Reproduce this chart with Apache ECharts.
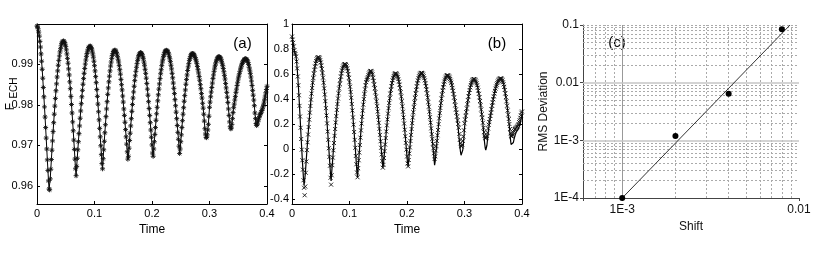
<!DOCTYPE html>
<html><head><meta charset="utf-8">
<script src="https://cdn.jsdelivr.net/npm/echarts@6/dist/echarts.min.js"></script>
<style>html,body{margin:0;padding:0;background:#fff}#c{width:830px;height:256px}</style>
</head><body><div id="c"></div>
<script>
// ---- sample times (shared by panels a and b)
const time = [
0,0.001,0.002,0.003,0.004,0.005,0.006,0.007,0.008,0.009,
0.010,0.011,0.012,0.013,0.014,0.015,0.016,0.017,0.018,0.019,
0.020,0.021,0.022,0.023,0.024,0.025,0.026,0.027,0.028,0.029,
0.030,0.031,0.032,0.033,0.034,0.035,0.036,0.037,0.038,0.039,
0.040,0.041,0.042,0.043,0.044,0.045,0.046,0.047,0.048,0.049,
0.050,0.051,0.052,0.053,0.054,0.055,0.056,0.057,0.058,0.059,
0.060,0.061,0.062,0.063,0.064,0.065,0.066,0.067,0.068,0.069,
0.070,0.071,0.072,0.073,0.074,0.075,0.076,0.077,0.078,0.079,
0.080,0.081,0.082,0.083,0.084,0.085,0.086,0.087,0.088,0.089,
0.090,0.091,0.092,0.093,0.094,0.095,0.096,0.097,0.098,0.099,
0.100,0.101,0.102,0.103,0.104,0.105,0.106,0.107,0.108,0.109,
0.110,0.111,0.112,0.113,0.114,0.115,0.116,0.117,0.118,0.119,
0.120,0.121,0.122,0.123,0.124,0.125,0.126,0.127,0.128,0.129,
0.130,0.131,0.132,0.133,0.134,0.135,0.136,0.137,0.138,0.139,
0.140,0.141,0.142,0.143,0.144,0.145,0.146,0.147,0.148,0.149,
0.150,0.151,0.152,0.153,0.154,0.155,0.156,0.157,0.158,0.159,
0.160,0.161,0.162,0.163,0.164,0.165,0.166,0.167,0.168,0.169,
0.170,0.171,0.172,0.173,0.174,0.175,0.176,0.177,0.178,0.179,
0.180,0.181,0.182,0.183,0.184,0.185,0.186,0.187,0.188,0.189,
0.190,0.191,0.192,0.193,0.194,0.195,0.196,0.197,0.198,0.199,
0.200,0.201,0.202,0.203,0.204,0.205,0.206,0.207,0.208,0.209,
0.210,0.211,0.212,0.213,0.214,0.215,0.216,0.217,0.218,0.219,
0.220,0.221,0.222,0.223,0.224,0.225,0.226,0.227,0.228,0.229,
0.230,0.231,0.232,0.233,0.234,0.235,0.236,0.237,0.238,0.239,
0.240,0.241,0.242,0.243,0.244,0.245,0.246,0.247,0.248,0.249,
0.250,0.251,0.252,0.253,0.254,0.255,0.256,0.257,0.258,0.259,
0.260,0.261,0.262,0.263,0.264,0.265,0.266,0.267,0.268,0.269,
0.270,0.271,0.272,0.273,0.274,0.275,0.276,0.277,0.278,0.279,
0.280,0.281,0.282,0.283,0.284,0.285,0.286,0.287,0.288,0.289,
0.290,0.291,0.292,0.293,0.294,0.295,0.296,0.297,0.298,0.299,
0.300,0.301,0.302,0.303,0.304,0.305,0.306,0.307,0.308,0.309,
0.310,0.311,0.312,0.313,0.314,0.315,0.316,0.317,0.318,0.319,
0.320,0.321,0.322,0.323,0.324,0.325,0.326,0.327,0.328,0.329,
0.330,0.331,0.332,0.333,0.334,0.335,0.336,0.337,0.338,0.339,
0.340,0.341,0.342,0.343,0.344,0.345,0.346,0.347,0.348,0.349,
0.350,0.351,0.352,0.353,0.354,0.355,0.356,0.357,0.358,0.359,
0.360,0.361,0.362,0.363,0.364,0.365,0.366,0.367,0.368,0.369,
0.370,0.371,0.372,0.373,0.374,0.375,0.376,0.377,0.378,0.379,
0.380,0.381,0.382,0.383,0.384,0.385,0.386,0.387,0.388,0.389,
0.390,0.391,0.392,0.393,0.394,0.395,0.396,0.397,0.398,0.399,
0.400];

// ---- panel (a): F_ECH
const fechA = [
0.9995,0.9993,0.9988,0.9980,0.9970,0.9957,0.9943,0.9926,0.9908,0.9888,
0.9866,0.9843,0.9820,0.9795,0.9770,0.9744,0.9718,0.9691,0.9664,0.9638,
0.9612,0.9592,0.9590,0.9617,0.9641,0.9665,0.9688,0.9711,0.9734,0.9756,
0.9777,0.9797,0.9816,0.9835,0.9852,0.9869,0.9884,0.9898,0.9910,0.9921,
0.9931,0.9939,0.9946,0.9952,0.9955,0.9957,0.9958,0.9957,0.9954,0.9950,
0.9944,0.9936,0.9926,0.9915,0.9903,0.9889,0.9874,0.9857,0.9840,0.9821,
0.9801,0.9780,0.9758,0.9736,0.9713,0.9690,0.9666,0.9642,0.9625,0.9648,
0.9668,0.9689,0.9709,0.9729,0.9748,0.9767,0.9785,0.9803,0.9820,0.9836,
0.9851,0.9865,0.9878,0.9890,0.9901,0.9911,0.9920,0.9927,0.9933,0.9938,
0.9942,0.9944,0.9945,0.9945,0.9942,0.9939,0.9933,0.9926,0.9918,0.9908,
0.9897,0.9884,0.9870,0.9855,0.9838,0.9821,0.9802,0.9783,0.9763,0.9742,
0.9721,0.9699,0.9677,0.9655,0.9642,0.9667,0.9689,0.9710,0.9731,0.9751,
0.9771,0.9790,0.9808,0.9826,0.9842,0.9857,0.9871,0.9884,0.9896,0.9906,
0.9915,0.9922,0.9927,0.9932,0.9934,0.9935,0.9935,0.9933,0.9930,0.9926,
0.9920,0.9913,0.9906,0.9897,0.9887,0.9876,0.9863,0.9850,0.9837,0.9822,
0.9807,0.9790,0.9774,0.9757,0.9739,0.9721,0.9703,0.9684,0.9666,0.9673,
0.9693,0.9712,0.9730,0.9748,0.9766,0.9784,0.9801,0.9817,0.9832,0.9846,
0.9860,0.9872,0.9883,0.9893,0.9902,0.9910,0.9916,0.9922,0.9925,0.9928,
0.9929,0.9929,0.9927,0.9924,0.9919,0.9914,0.9906,0.9898,0.9888,0.9878,
0.9866,0.9853,0.9839,0.9824,0.9808,0.9791,0.9774,0.9756,0.9738,0.9720,
0.9701,0.9681,0.9673,0.9691,0.9709,0.9727,0.9744,0.9762,0.9778,0.9794,
0.9810,0.9825,0.9839,0.9852,0.9865,0.9877,0.9887,0.9897,0.9906,0.9913,
0.9920,0.9925,0.9930,0.9933,0.9934,0.9935,0.9934,0.9933,0.9930,0.9926,
0.9920,0.9914,0.9907,0.9898,0.9889,0.9878,0.9867,0.9854,0.9841,0.9828,
0.9813,0.9798,0.9782,0.9766,0.9749,0.9732,0.9715,0.9698,0.9680,0.9691,
0.9709,0.9726,0.9744,0.9761,0.9777,0.9793,0.9809,0.9823,0.9837,0.9851,
0.9863,0.9874,0.9885,0.9894,0.9902,0.9910,0.9915,0.9920,0.9924,0.9926,
0.9927,0.9927,0.9926,0.9924,0.9921,0.9917,0.9913,0.9908,0.9902,0.9895,
0.9887,0.9879,0.9870,0.9861,0.9850,0.9840,0.9828,0.9817,0.9804,0.9792,
0.9777,0.9760,0.9741,0.9728,0.9720,0.9719,0.9726,0.9738,0.9752,0.9772,
0.9794,0.9807,0.9820,0.9832,0.9843,0.9854,0.9865,0.9874,0.9883,0.9891,
0.9898,0.9904,0.9909,0.9913,0.9916,0.9918,0.9919,0.9919,0.9918,0.9916,
0.9913,0.9908,0.9903,0.9897,0.9890,0.9882,0.9873,0.9864,0.9853,0.9842,
0.9831,0.9819,0.9806,0.9790,0.9774,0.9758,0.9746,0.9741,0.9743,0.9752,
0.9766,0.9781,0.9793,0.9802,0.9812,0.9821,0.9831,0.9839,0.9848,0.9856,
0.9864,0.9871,0.9877,0.9883,0.9889,0.9894,0.9899,0.9903,0.9906,0.9909,
0.9911,0.9913,0.9914,0.9914,0.9913,0.9912,0.9909,0.9905,0.9900,0.9893,
0.9886,0.9878,0.9869,0.9859,0.9848,0.9836,0.9824,0.9812,0.9798,0.9780,
0.9766,0.9754,0.9749,0.9752,0.9758,0.9763,0.9768,0.9772,0.9776,0.9779,
0.9782,0.9786,0.9790,0.9795,0.9800,0.9807,0.9814,0.9822,0.9830,0.9838,
0.9846];

// ---- panel (b): solid curve
const curveB = [
0.900,0.875,0.850,0.820,0.790,0.770,0.760,0.740,0.700,0.645,
0.580,0.510,0.430,0.345,0.260,0.170,0.080,-0.005,-0.090,-0.165,
-0.240,-0.290,-0.280,-0.206,-0.140,-0.074,-0.009,0.054,0.116,0.176,
0.235,0.291,0.344,0.395,0.443,0.488,0.530,0.568,0.603,0.633,
0.660,0.684,0.703,0.717,0.727,0.733,0.735,0.732,0.724,0.711,
0.692,0.669,0.641,0.608,0.571,0.530,0.485,0.436,0.383,0.327,
0.268,0.205,0.140,0.074,0.006,-0.063,-0.134,-0.205,-0.255,-0.189,
-0.129,-0.069,-0.010,0.048,0.105,0.160,0.212,0.263,0.313,0.360,
0.404,0.446,0.484,0.520,0.552,0.580,0.606,0.628,0.646,0.660,
0.671,0.677,0.680,0.678,0.672,0.661,0.645,0.624,0.599,0.569,
0.535,0.498,0.456,0.410,0.360,0.308,0.253,0.195,0.136,0.073,
0.010,-0.056,-0.122,-0.188,-0.226,-0.153,-0.090,-0.028,0.032,0.091,
0.149,0.204,0.257,0.307,0.355,0.399,0.440,0.477,0.510,0.535,
0.552,0.563,0.575,0.590,0.604,0.615,0.622,0.625,0.622,0.612,
0.598,0.570,0.545,0.515,0.486,0.454,0.419,0.382,0.343,0.300,
0.256,0.210,0.161,0.113,0.062,0.010,-0.043,-0.096,-0.149,-0.127,
-0.072,-0.017,0.036,0.088,0.140,0.189,0.237,0.283,0.327,0.368,
0.406,0.442,0.473,0.503,0.528,0.550,0.569,0.584,0.595,0.602,
0.605,0.604,0.599,0.590,0.577,0.560,0.539,0.515,0.487,0.455,
0.420,0.382,0.342,0.298,0.252,0.204,0.154,0.102,0.049,-0.005,
-0.060,-0.116,-0.139,-0.088,-0.037,0.013,0.064,0.113,0.160,0.207,
0.252,0.294,0.335,0.373,0.409,0.443,0.473,0.501,0.527,0.548,
0.567,0.582,0.594,0.603,0.608,0.610,0.608,0.603,0.595,0.583,
0.567,0.549,0.527,0.503,0.475,0.445,0.411,0.375,0.338,0.298,
0.255,0.211,0.165,0.119,0.071,0.021,-0.029,-0.079,-0.130,-0.099,
-0.047,0.004,0.055,0.104,0.152,0.199,0.245,0.287,0.328,0.367,
0.403,0.436,0.467,0.494,0.518,0.539,0.556,0.570,0.580,0.587,
0.590,0.589,0.586,0.580,0.571,0.560,0.546,0.530,0.511,0.489,
0.466,0.440,0.412,0.382,0.350,0.316,0.281,0.245,0.206,0.167,
0.120,0.070,0.020,-0.022,-0.050,-0.060,-0.045,-0.008,0.038,0.095,
0.165,0.212,0.251,0.289,0.325,0.359,0.391,0.421,0.448,0.472,
0.493,0.512,0.528,0.540,0.550,0.556,0.560,0.560,0.556,0.550,
0.540,0.526,0.510,0.490,0.467,0.442,0.414,0.384,0.351,0.316,
0.278,0.240,0.200,0.150,0.098,0.047,0.010,-0.008,0.002,0.030,
0.076,0.125,0.164,0.196,0.228,0.259,0.290,0.318,0.346,0.373,
0.398,0.421,0.444,0.464,0.483,0.500,0.515,0.528,0.539,0.548,
0.556,0.561,0.564,0.565,0.563,0.557,0.548,0.534,0.517,0.497,
0.472,0.445,0.415,0.382,0.346,0.308,0.268,0.227,0.183,0.124,
0.075,0.036,0.020,0.025,0.035,0.052,0.075,0.093,0.110,0.123,
0.135,0.143,0.150,0.157,0.165,0.176,0.190,0.208,0.230,0.255,
0.280];

// ---- panel (b): x markers
const marksB = [
0.900,0.875,0.850,0.820,0.790,0.770,0.760,0.740,0.700,0.645,
0.580,0.510,0.430,0.345,0.260,0.170,0.080,-0.005,-0.090,-0.165,
-0.250,-0.310,-0.370,-0.300,-0.190,-0.100,-0.009,0.054,0.116,0.176,
0.235,0.291,0.344,0.395,0.443,0.488,0.530,0.568,0.603,0.633,
0.660,0.684,0.703,0.717,0.727,0.733,0.735,0.732,0.724,0.711,
0.692,0.669,0.641,0.608,0.571,0.530,0.485,0.436,0.383,0.327,
0.268,0.205,0.140,0.074,0.006,-0.063,-0.134,-0.230,-0.285,-0.210,
-0.129,-0.069,-0.010,0.048,0.105,0.160,0.212,0.263,0.313,0.360,
0.404,0.446,0.484,0.520,0.552,0.580,0.606,0.628,0.646,0.660,
0.671,0.677,0.680,0.678,0.672,0.661,0.645,0.624,0.599,0.569,
0.535,0.498,0.456,0.410,0.360,0.308,0.253,0.195,0.136,0.073,
0.010,-0.056,-0.122,-0.188,-0.226,-0.153,-0.090,-0.028,0.032,0.091,
0.149,0.204,0.257,0.307,0.355,0.399,0.440,0.477,0.510,0.535,
0.552,0.563,0.575,0.590,0.604,0.615,0.622,0.625,0.622,0.612,
0.598,0.570,0.545,0.515,0.486,0.454,0.419,0.382,0.343,0.300,
0.256,0.210,0.161,0.113,0.062,0.010,-0.043,-0.096,-0.149,-0.127,
-0.072,-0.017,0.036,0.088,0.140,0.189,0.237,0.283,0.327,0.368,
0.406,0.442,0.473,0.503,0.528,0.550,0.569,0.584,0.595,0.602,
0.605,0.604,0.599,0.590,0.577,0.560,0.539,0.515,0.487,0.455,
0.420,0.382,0.342,0.298,0.252,0.204,0.154,0.102,0.049,-0.005,
-0.060,-0.116,-0.139,-0.088,-0.037,0.013,0.064,0.113,0.160,0.207,
0.252,0.294,0.335,0.373,0.409,0.443,0.473,0.501,0.527,0.548,
0.567,0.582,0.594,0.603,0.608,0.610,0.608,0.603,0.595,0.583,
0.567,0.549,0.527,0.503,0.475,0.445,0.411,0.375,0.338,0.298,
0.255,0.211,0.165,0.119,0.081,0.041,0.006,-0.034,-0.080,-0.059,
-0.012,0.024,0.065,0.110,0.152,0.199,0.245,0.287,0.328,0.367,
0.403,0.436,0.467,0.494,0.518,0.539,0.556,0.570,0.580,0.587,
0.590,0.589,0.586,0.580,0.571,0.560,0.546,0.530,0.511,0.489,
0.466,0.440,0.412,0.382,0.350,0.316,0.291,0.260,0.231,0.200,
0.170,0.120,0.075,0.045,0.025,0.020,0.035,0.065,0.100,0.150,
0.205,0.235,0.265,0.295,0.325,0.359,0.391,0.421,0.448,0.472,
0.493,0.512,0.528,0.540,0.550,0.556,0.560,0.560,0.556,0.550,
0.540,0.526,0.510,0.490,0.467,0.442,0.414,0.384,0.351,0.316,
0.278,0.250,0.210,0.170,0.135,0.105,0.090,0.086,0.090,0.105,
0.130,0.165,0.195,0.215,0.240,0.265,0.290,0.318,0.346,0.373,
0.398,0.421,0.444,0.464,0.483,0.500,0.515,0.528,0.539,0.548,
0.556,0.561,0.564,0.565,0.563,0.557,0.548,0.534,0.517,0.497,
0.472,0.445,0.415,0.382,0.346,0.308,0.275,0.240,0.200,0.160,
0.125,0.105,0.100,0.105,0.115,0.130,0.145,0.155,0.160,0.165,
0.170,0.175,0.180,0.190,0.200,0.215,0.230,0.250,0.270,0.290,
0.300];

// ---- tick labels (a), (b)
const xTicksAB = [0, 0.1, 0.2, 0.3, 0.4];
const xTickLabelsAB = ['0', '0.1', '0.2', '0.3', '0.4'];
const yTicksA = [0.96, 0.97, 0.98, 0.99];
const yTickLabelsA = ['0.96', '0.97', '0.98', '0.99'];
const yTicksB = [-0.4, -0.2, 0, 0.2, 0.4, 0.6, 0.8, 1];
const yTickLabelsB = ['-0.4', '-0.2', '0', '0.2', '0.4', '0.6', '0.8', '1'];

// ---- panel (c)
const shiftC = [0.001, 0.002, 0.004, 0.008];
const rmsC = [0.0001, 0.00119, 0.00645, 0.0843];
const fitShift = [0.001, 0.0089];
const fitRms = [0.0001, 0.1];
const cXTicks = [0.001, 0.01];
const cXTickLabels = ['1E-3', '0.01'];
const cYTicks = [0.0001, 0.001, 0.01, 0.1];
const cYTickLabels = ['1E-4', '1E-3', '0.01', '0.1'];
const cXMinor = [0.0007, 0.0008, 0.0009, 0.002, 0.003, 0.004, 0.005, 0.006, 0.007, 0.008, 0.009];
const cYMinor = [0.0002, 0.0003, 0.0004, 0.0005, 0.0006, 0.0007, 0.0008, 0.0009,
                 0.002, 0.003, 0.004, 0.005, 0.006, 0.007, 0.008, 0.009,
                 0.02, 0.03, 0.04, 0.05, 0.06, 0.07, 0.08, 0.09, 0.1];
const cXMajor = [0.001];
const cYMajor = [0.001, 0.01];

// ---------------------------------------------------------------
const FONT = '"Liberation Sans", Arial, Helvetica, sans-serif';
const pairs = (xs, ys) => xs.map((x, i) => [x, ys[i]]);
const ASTER = 'path://M5,0L5,10M0,5L10,5M1.6,1.6L8.4,8.4M8.4,1.6L1.6,8.4';
const CROSS = 'path://M0,0L10,10M10,0L0,10';

const pick = (ticks, labels) => (v) => {
  const i = ticks.findIndex(t => Math.abs(t - v) < 1e-7);
  return i >= 0 ? labels[i] : '';
};
const pickLog = (ticks, labels) => (v) => {
  const l = v > 0 ? Math.log10(v) : v;
  const i = ticks.findIndex(t => Math.abs(Math.log10(t) - l) < 0.01);
  return i >= 0 ? labels[i] : '';
};

const lineAxis = { show: true, onZero: false, lineStyle: { color: '#000', width: 1 } };
const inTick = { show: true, inside: true, length: 3, lineStyle: { color: '#000', width: 1 } };
const lab = (extra) => Object.assign({ color: '#000', fontSize: 11, fontFamily: FONT }, extra);

function xPair(g) {
  const base = { gridIndex: g, type: 'value', min: 0, max: 0.4, interval: 0.1,
    axisLine: lineAxis, axisTick: inTick, splitLine: { show: false } };
  return [
    Object.assign({}, base, { position: 'bottom',
      axisLabel: lab({ margin: 4, formatter: pick(xTicksAB, xTickLabelsAB) }),
      name: 'Time', nameLocation: 'middle', nameGap: 14,
      nameTextStyle: { color: '#000', fontSize: 12, fontFamily: FONT } }),
    Object.assign({}, base, { position: 'top', axisLabel: { show: false } })
  ];
}
function yPair(g, min, max, split, ticks, labels, margin) {
  const base = { gridIndex: g, type: 'value', min: min, max: max, splitNumber: split,
    axisLine: lineAxis, axisTick: inTick, splitLine: { show: false } };
  return [
    Object.assign({}, base, { position: 'left',
      axisLabel: lab({ margin: margin, formatter: pick(ticks, labels) }) }),
    Object.assign({}, base, { position: 'right', axisLabel: { show: false } })
  ];
}

const dotted = { color: '#aaa', type: [2, 2], width: 1 };
const gridLines = [].concat(
  cXMinor.map(v => ({ xAxis: v, lineStyle: dotted })),
  cYMinor.map(v => ({ yAxis: v, lineStyle: dotted })),
  cXMajor.map(v => ({ xAxis: v, lineStyle: { color: '#999', type: 'solid', width: 1 } })),
  cYMajor.map(v => ({ yAxis: v, lineStyle: { color: '#c6c6c6', type: 'solid', width: 1.5 } }))
);

const option = {
  animation: false,
  textStyle: { fontFamily: FONT },
  grid: [
    { left: 37, top: 24, width: 230, height: 180 },
    { left: 292, top: 24, width: 230, height: 180 },
    { left: 583, top: 25, width: 216, height: 173 }
  ],
  xAxis: [].concat(xPair(0), xPair(1), [{
    gridIndex: 2, type: 'log', logBase: 10, min: 0.0006, max: 0.01, position: 'bottom',
    axisLine: { show: true, onZero: false, lineStyle: { color: '#444', width: 1 } },
    axisTick: { show: true, inside: false, length: 3, lineStyle: { color: '#444' } },
    minorTick: { show: false }, splitLine: { show: false },
    axisLabel: { color: '#111', fontSize: 12, fontFamily: FONT, margin: 6,
      formatter: pickLog(cXTicks, cXTickLabels) },
    name: 'Shift', nameLocation: 'middle', nameGap: 14,
    nameTextStyle: { color: '#111', fontSize: 12, fontFamily: FONT }
  }]),
  yAxis: [].concat(
    yPair(0, 0.9555, 1.0, 5, yTicksA, yTickLabelsA, 4),
    yPair(1, -0.44, 1.0, 7, yTicksB, yTickLabelsB, 3),
    [{
      gridIndex: 2, type: 'log', logBase: 10, min: 0.0001, max: 0.1, position: 'left',
      axisLine: { show: true, onZero: false, lineStyle: { color: '#444', width: 1 } },
      axisTick: { show: true, inside: false, length: 3, lineStyle: { color: '#444' } },
      minorTick: { show: false }, splitLine: { show: false },
      axisLabel: { color: '#111', fontSize: 12, fontFamily: FONT, margin: 4,
        formatter: pickLog(cYTicks, cYTickLabels) },
      name: 'RMS Deviation', nameLocation: 'middle', nameGap: 30, nameRotate: 90,
      nameTextStyle: { color: '#111', fontSize: 12, fontFamily: FONT }
    }]),
  series: [
    { type: 'line', xAxisIndex: 0, yAxisIndex: 0, data: pairs(time, fechA),
      showSymbol: true, showAllSymbol: true, symbol: ASTER, symbolSize: 5,
      itemStyle: { color: '#111', borderColor: '#111', borderWidth: 0.9, opacity: 1 },
      lineStyle: { color: '#000', width: 1 }, silent: true, z: 3 },
    { type: 'line', xAxisIndex: 2, yAxisIndex: 2, data: pairs(time, curveB),
      showSymbol: false, lineStyle: { color: '#000', width: 1.2 }, silent: true, z: 2 },
    { type: 'scatter', xAxisIndex: 2, yAxisIndex: 2, data: pairs(time, marksB),
      symbol: CROSS, symbolSize: 4,
      itemStyle: { color: '#111', borderColor: '#111', borderWidth: 0.9, opacity: 1 },
      silent: true, z: 3 },
    { type: 'line', xAxisIndex: 4, yAxisIndex: 4, data: pairs(fitShift, fitRms),
      showSymbol: false, lineStyle: { color: '#333', width: 1 }, silent: true, z: 6,
      markLine: { silent: true, symbol: ['none', 'none'], label: { show: false },
        precision: 10, animation: false, data: gridLines } },
    { type: 'scatter', xAxisIndex: 4, yAxisIndex: 4, data: pairs(shiftC, rmsC),
      symbol: 'circle', symbolSize: 6, itemStyle: { color: '#000', opacity: 1 },
      silent: true, z: 10, clip: false }
  ],
  graphic: [
    { type: 'text', x: 242.5, y: 43.5, silent: true,
      style: { text: '(a)', fontSize: 15, fontFamily: FONT, fill: '#000',
        align: 'center', verticalAlign: 'middle', textAlign: 'center', textVerticalAlign: 'middle' } },
    { type: 'text', x: 497, y: 43.5, silent: true,
      style: { text: '(b)', fontSize: 15, fontFamily: FONT, fill: '#000',
        align: 'center', verticalAlign: 'middle', textAlign: 'center', textVerticalAlign: 'middle' } },
    { type: 'text', x: 617, y: 43, silent: true,
      style: { text: '(c)', fontSize: 15, fontFamily: FONT, fill: '#000',
        align: 'center', verticalAlign: 'middle', textAlign: 'center', textVerticalAlign: 'middle' } },
    { type: 'text', x: 11, y: 106.5, rotation: Math.PI / 2, silent: true,
      style: { text: 'F', fontSize: 12, fontFamily: FONT, fill: '#000',
        align: 'center', verticalAlign: 'middle', textAlign: 'center', textVerticalAlign: 'middle' } },
    { type: 'text', x: 14.5, y: 88, rotation: Math.PI / 2, silent: true,
      style: { text: 'ECH', fontSize: 10, fontFamily: FONT, fill: '#000',
        align: 'center', verticalAlign: 'middle', textAlign: 'center', textVerticalAlign: 'middle' } }
  ]
};

const chart = echarts.init(document.getElementById('c'), null, { renderer: 'canvas' });
chart.setOption(option);
</script>
</body></html>
